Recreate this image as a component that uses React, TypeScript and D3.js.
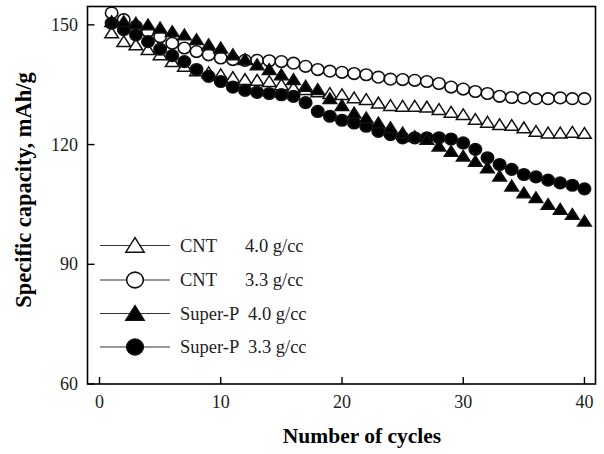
import { useEffect, useRef } from 'react'
import * as d3 from 'd3'

const cycles = d3.range(1, 41)

const cnt40 = [
  148, 145.8, 145, 143.8, 142.5, 140.8, 139.6, 138.5, 138, 137.5,
  136.8, 136.3, 136.1, 135.8, 135, 134.2, 133.8, 133.2, 132.8, 132.5,
  131.7, 131.3, 130.4, 129.8, 129.6, 129.6, 129.4, 128.8, 128.1, 127.5,
  126.3, 125.6, 125, 124.8, 124.2, 123.3, 122.9, 122.9, 123.1, 122.8,
]
const cnt33 = [
  153, 151.3, 149.6, 148.4, 147, 145.4, 144.2, 143.3, 142.5, 141.7,
  141.3, 141.1, 141.1, 141, 140.8, 140.4, 139.6, 138.8, 138.4, 138.1,
  137.8, 137.5, 136.9, 136.4, 136.3, 136.1, 135.8, 135.3, 134.4, 133.9,
  133.3, 132.8, 132.1, 131.8, 131.7, 131.5, 131.5, 131.7, 131.5, 131.5,
]
const superP40 = [
  150.8, 150.8, 150.4, 150, 149.2, 148.3, 147.5, 146.3, 145, 144.2,
  142.5, 141.3, 140, 138.8, 137.5, 136.3, 134.6, 133.8, 131.5, 129.8,
  127.9, 126.7, 125.4, 124.2, 122.9, 122, 121.3, 119.6, 118.3, 117.1,
  115.8, 114.2, 112.1, 109.6, 107.9, 106.7, 105, 103.8, 102.5, 100.8,
]
const superP33 = [
  150.4, 148.8, 147.5, 145.8, 143.9, 142.3, 140.8, 138.8, 137.1, 135.8,
  134.4, 133.6, 133.1, 132.8, 132.5, 132.1, 130.5, 128.3, 127.1, 126.1,
  125.4, 124.6, 123.3, 122.5, 121.7, 121.7, 121.7, 121.7, 121.4, 120.4,
  118.8, 116.7, 115, 113.8, 112.5, 111.9, 111.1, 110.4, 109.8, 108.9,
]

const xTicks = [0, 10, 20, 30, 40]
const yTicks = [60, 90, 120, 150]

const seriesNames = ['CNT', 'CNT', 'Super-P', 'Super-P']
const densities = ['4.0 g/cc', '3.3 g/cc', '4.0 g/cc', '3.3 g/cc']

type Mark = 'tri-open' | 'circle-open' | 'tri-fill' | 'circle-fill'

export default () => {
  const rootRef = useRef<SVGSVGElement>(null)

  useEffect(() => {
    const width = 604
    const height = 454
    const left = 87.5,
      right = 595.5,
      top = 6.5,
      bottom = 384

    const svg = d3.select(rootRef.current).attr('width', width).attr('height', height)
    svg.selectAll('*').remove()
    const font = '"Liberation Serif", "Times New Roman", serif'

    const x = d3.scaleLinear().domain([-0.99, 40.91]).range([left, right])
    const y = d3.scaleLinear().domain([60, 154.6]).range([bottom, top])

    const drawMark = (
      g: d3.Selection<SVGGElement, unknown, null, undefined>,
      kind: Mark,
      cx: number,
      cy: number,
      s: number
    ) => {
      const filled = kind === 'tri-fill' || kind === 'circle-fill'
      if (kind.startsWith('circle')) {
        g.append('ellipse')
          .attr('cx', cx)
          .attr('cy', cy)
          .attr('rx', 6.2 * s)
          .attr('ry', 5.8 * s)
          .attr('fill', filled ? '#000' : '#fff')
          .attr('stroke', '#111')
          .attr('stroke-width', 1.6)
      } else {
        const w = 6.8 * s,
          h = 5.8 * s
        g.append('path')
          .attr('d', `M${cx},${cy - h}L${cx + w},${cy + h * 0.85}L${cx - w},${cy + h * 0.85}Z`)
          .attr('fill', filled ? '#000' : '#fff')
          .attr('stroke', '#111')
          .attr('stroke-width', 1.5)
      }
    }

    // data, drawn back to front
    const layers: { data: number[]; kind: Mark }[] = [
      { data: cnt33, kind: 'circle-open' },
      { data: cnt40, kind: 'tri-open' },
      { data: superP33, kind: 'circle-fill' },
      { data: superP40, kind: 'tri-fill' },
    ]
    const plot = svg.append('g')
    layers.forEach((l) => {
      const g = plot.append('g')
      cycles.forEach((c, i) => drawMark(g, l.kind, x(c), y(l.data[i]), 1))
    })

    // frame
    svg
      .append('rect')
      .attr('x', left)
      .attr('y', top)
      .attr('width', right - left)
      .attr('height', bottom - top)
      .attr('fill', 'none')
      .attr('stroke', '#000')
      .attr('stroke-width', 1.6)

    // ticks (inward)
    const axes = svg.append('g').attr('stroke', '#000').attr('stroke-width', 1.4)
    xTicks.forEach((t) => {
      axes.append('line').attr('x1', x(t)).attr('x2', x(t)).attr('y1', bottom).attr('y2', bottom - 7)
    })
    yTicks.forEach((t) => {
      axes.append('line').attr('x1', left).attr('x2', left + 7).attr('y1', y(t)).attr('y2', y(t))
    })

    const labels = svg.append('g').attr('font-family', font).attr('font-size', 18).attr('fill', '#222')
    xTicks.forEach((t) => {
      labels.append('text').attr('x', x(t)).attr('y', 408).attr('text-anchor', 'middle').text(t)
    })
    yTicks.forEach((t) => {
      labels
        .append('text')
        .attr('x', 78)
        .attr('y', y(t) + 6)
        .attr('text-anchor', 'end')
        .text(t)
    })

    // axis titles
    svg
      .append('text')
      .attr('x', 362)
      .attr('y', 443)
      .attr('text-anchor', 'middle')
      .attr('font-family', font)
      .attr('font-weight', 'bold')
      .attr('font-size', 21.5)
      .text('Number of cycles')
    svg
      .append('text')
      .attr('transform', 'translate(31,190) rotate(-90)')
      .attr('text-anchor', 'middle')
      .attr('font-family', font)
      .attr('font-weight', 'bold')
      .attr('font-size', 22.5)
      .text('Specific capacity, mAh/g')

    // legend
    const legend = svg.append('g')
    const rowY = [245.5, 280, 313.5, 347]
    const legendKinds: Mark[] = ['tri-open', 'circle-open', 'tri-fill', 'circle-fill']
    legendKinds.forEach((kind, i) => {
      const g = legend.append('g')
      g.append('line')
        .attr('x1', 100)
        .attr('x2', 170)
        .attr('y1', rowY[i])
        .attr('y2', rowY[i])
        .attr('stroke', '#333')
        .attr('stroke-width', 1.2)
      drawMark(g, kind, 135, rowY[i], 1.35)
      g.append('text')
        .attr('x', 180)
        .attr('y', rowY[i] + 6)
        .attr('font-family', font)
        .attr('font-size', 18.5)
        .attr('fill', '#222')
        .text(seriesNames[i])
      g.append('text')
        .attr('x', i < 2 ? 245 : 248)
        .attr('y', rowY[i] + 6)
        .attr('font-family', font)
        .attr('font-size', 18.5)
        .attr('fill', '#222')
        .text(densities[i])
    })
  }, [])

  return <svg ref={rootRef} style={{ position: 'absolute', left: 0, top: 0 }}></svg>
}
